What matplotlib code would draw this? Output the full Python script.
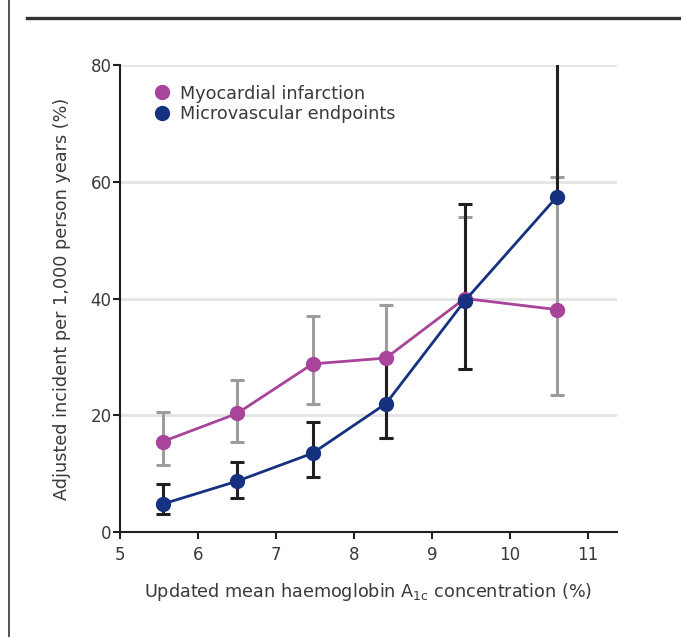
import matplotlib
matplotlib.use("Agg")
import matplotlib.pyplot as plt
from matplotlib.lines import Line2D

# HbA1c category means (%)
hba1c = [5.55, 6.50, 7.47, 8.41, 9.42, 10.60]

# Myocardial infarction: value, lower and upper bound
mi = [15.5, 20.3, 28.8, 29.8, 40.0, 38.1]
mi_lo = [11.5, 15.5, 22.0, 16.1, 28.0, 23.4]
mi_hi = [20.6, 26.0, 37.0, 38.9, 53.9, 60.8]

# Microvascular endpoints
micro = [4.8, 8.7, 13.5, 22.0, 39.6, 57.4]
micro_lo = [3.0, 5.9, 9.4, 16.1, 28.0, 57.4]
micro_hi = [8.3, 12.0, 18.9, 29.8, 56.2, 84.0]

labels = ["Myocardial infarction", "Microvascular endpoints"]
x_ticks = [5, 6, 7, 8, 9, 10, 11]
y_ticks = [0, 20, 40, 60, 80]

purple = "#A8449A"
blue = "#15317F"
grey_bar = "#9D9D9F"
black_bar = "#231F20"
text_col = "#3A3A3A"

plt.rcParams["font.family"] = ["DejaVu Sans"]

fig = plt.figure(figsize=(6.81, 6.37), dpi=100)
ax = fig.add_axes([120 / 681, 1 - 532 / 637, 497 / 681, 467 / 637])


def err(vals, lo, hi):
    return [[v - l for v, l in zip(vals, lo)], [h - v for v, h in zip(vals, hi)]]


ax.errorbar(hba1c, mi, yerr=err(mi, mi_lo, mi_hi), fmt="none", ecolor=grey_bar,
            elinewidth=2.2, capsize=4.8, capthick=2.2, zorder=3)
ax.errorbar(hba1c, micro, yerr=err(micro, micro_lo, micro_hi), fmt="none", ecolor=black_bar,
            elinewidth=2.2, capsize=4.8, capthick=2.2, zorder=4)
ax.plot(hba1c, mi, color=purple, lw=2, marker="o", ms=10, zorder=5)
ax.plot(hba1c, micro, color=blue, lw=2, marker="o", ms=10, zorder=6)

ax.set_xlim(5, 5 + 497 / 78)
ax.set_ylim(0, 80)
ax.set_xticks(x_ticks)
ax.set_yticks(y_ticks)
ax.yaxis.grid(True, color="#E4E4E4", lw=2)
ax.set_axisbelow(True)

for s in ["top", "right"]:
    ax.spines[s].set_visible(False)
for s in ["left", "bottom"]:
    ax.spines[s].set_color(black_bar)
    ax.spines[s].set_linewidth(1.5)

ax.tick_params(axis="both", colors=black_bar, labelcolor=text_col, labelsize=12,
               length=5, width=1.5)
ax.tick_params(axis="y", pad=1)
ax.tick_params(axis="x", pad=5)

ax.set_xlabel(r"Updated mean haemoglobin A$_{\mathregular{1c}}$ concentration (%)",
              fontsize=12.7, color=text_col, labelpad=12)
ax.set_ylabel("Adjusted incident per 1,000 person years (%)", fontsize=12.7,
              color=text_col, labelpad=14)

handles = [Line2D([], [], ls="none", marker="o", ms=10, color=purple),
           Line2D([], [], ls="none", marker="o", ms=10, color=blue)]
ax.legend(handles, labels, loc="upper left", bbox_to_anchor=(0.034, 0.992), frameon=False,
          fontsize=12.7, handletextpad=0.55, labelspacing=0.15, handlelength=1.0,
          labelcolor=text_col)

# frame lines of the figure panel
fig.add_artist(Line2D([27 / 681, 1], [1 - 17.5 / 637] * 2, color="#333333", lw=2.4))
fig.add_artist(Line2D([8.5 / 681] * 2, [0, 1], color="#444444", lw=1.3))

fig.savefig("out.png", dpi=100)
